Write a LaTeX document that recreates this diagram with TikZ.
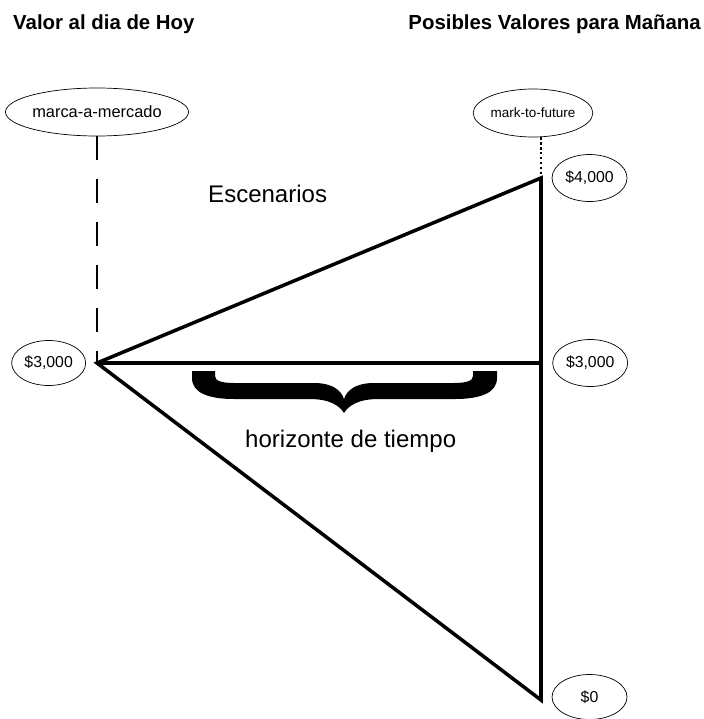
\documentclass[tikz,border=0pt]{standalone}
\usepackage{fontspec}
\setmainfont{Liberation Sans}
\usetikzlibrary{positioning,shapes.geometric}

\tikzset{
  val/.style={draw, line width=0.6pt, ellipse, inner sep=0pt, minimum width=22.5mm, minimum height=14.1mm, font=\fontsize{13.5}{15}\selectfont},
  titulo/.style={inner sep=0pt, font=\bfseries\fontsize{17.4}{20}\selectfont},
  rotulo/.style={inner sep=0pt, font=\fontsize{20.5}{24}\selectfont},
  rama/.style={line width=3pt},
}

\begin{document}
\begin{tikzpicture}[x=0.3mm, y=-0.3mm]
\useasboundingbox (0,0) rectangle (704,719);
\node[titulo, anchor=base west] (hoy) at (13,29) {Valor al dia de Hoy};
\node[titulo, anchor=base east] (manana) at (701,29) {Posibles Valores para Mañana};
\coordinate (o) at (97,363);
\coordinate (t) at (541,178);
\coordinate (r) at (541,363);
\coordinate (b) at (541,700);
\node[val, minimum width=41.1mm, minimum height=14.4mm, font=\fontsize{14}{16}\selectfont] (mam) at (97,112) {marca-a-mercado};
\node[val, minimum width=33.6mm, minimum height=14.4mm, font=\fontsize{11.5}{14}\selectfont] (mtf) at (533,113) {mark-to-future};
\node[val, right=3.2mm of t] (v4) {\$4,000};
\node[val, right=3.4mm of r] (v3r) {\$3,000};
\node[val, left=3.3mm of o, minimum width=22.2mm, minimum height=13.5mm] (v3l) {\$3,000};
\node[val, right=3.2mm of b, minimum height=13.5mm, yshift=0.9mm] (v0) {\$0};
\node[rotulo, anchor=base west] (esc) at (208,202) {Escenarios};
\node[rotulo, anchor=base west] (hor) at (245,447) {horizonte de tiempo};
\draw[line width=2.5pt, dash pattern=on 20.5pt off 16.2pt] (mam.south) -- (o);
\draw[line width=1.8pt, dash pattern=on 2pt off 2.2pt] (mtf.south -| t) -- (t);
\draw[rama, line join=miter] (o) -- (t) -- (b) -- cycle;
\draw[rama] (o) -- (r);
\fill (192,371) -- (215,371) -- (215,376)
  .. controls (215,381) and (222,383) .. (234,383) -- (314,383)
  .. controls (332,383) and (341,390) .. (344,399)
  .. controls (347,390) and (356,383) .. (374,383) -- (454,383)
  .. controls (466,383) and (473,381) .. (473,376) -- (473,371) -- (497,371) -- (497,378)
  .. controls (497,393) and (480,399) .. (455,399) -- (379,399)
  .. controls (359,399) and (349,405) .. (344,413)
  .. controls (339,405) and (329,399) .. (309,399) -- (234,399)
  .. controls (209,399) and (192,393) .. (192,378) -- cycle;
\end{tikzpicture}
\end{document}
